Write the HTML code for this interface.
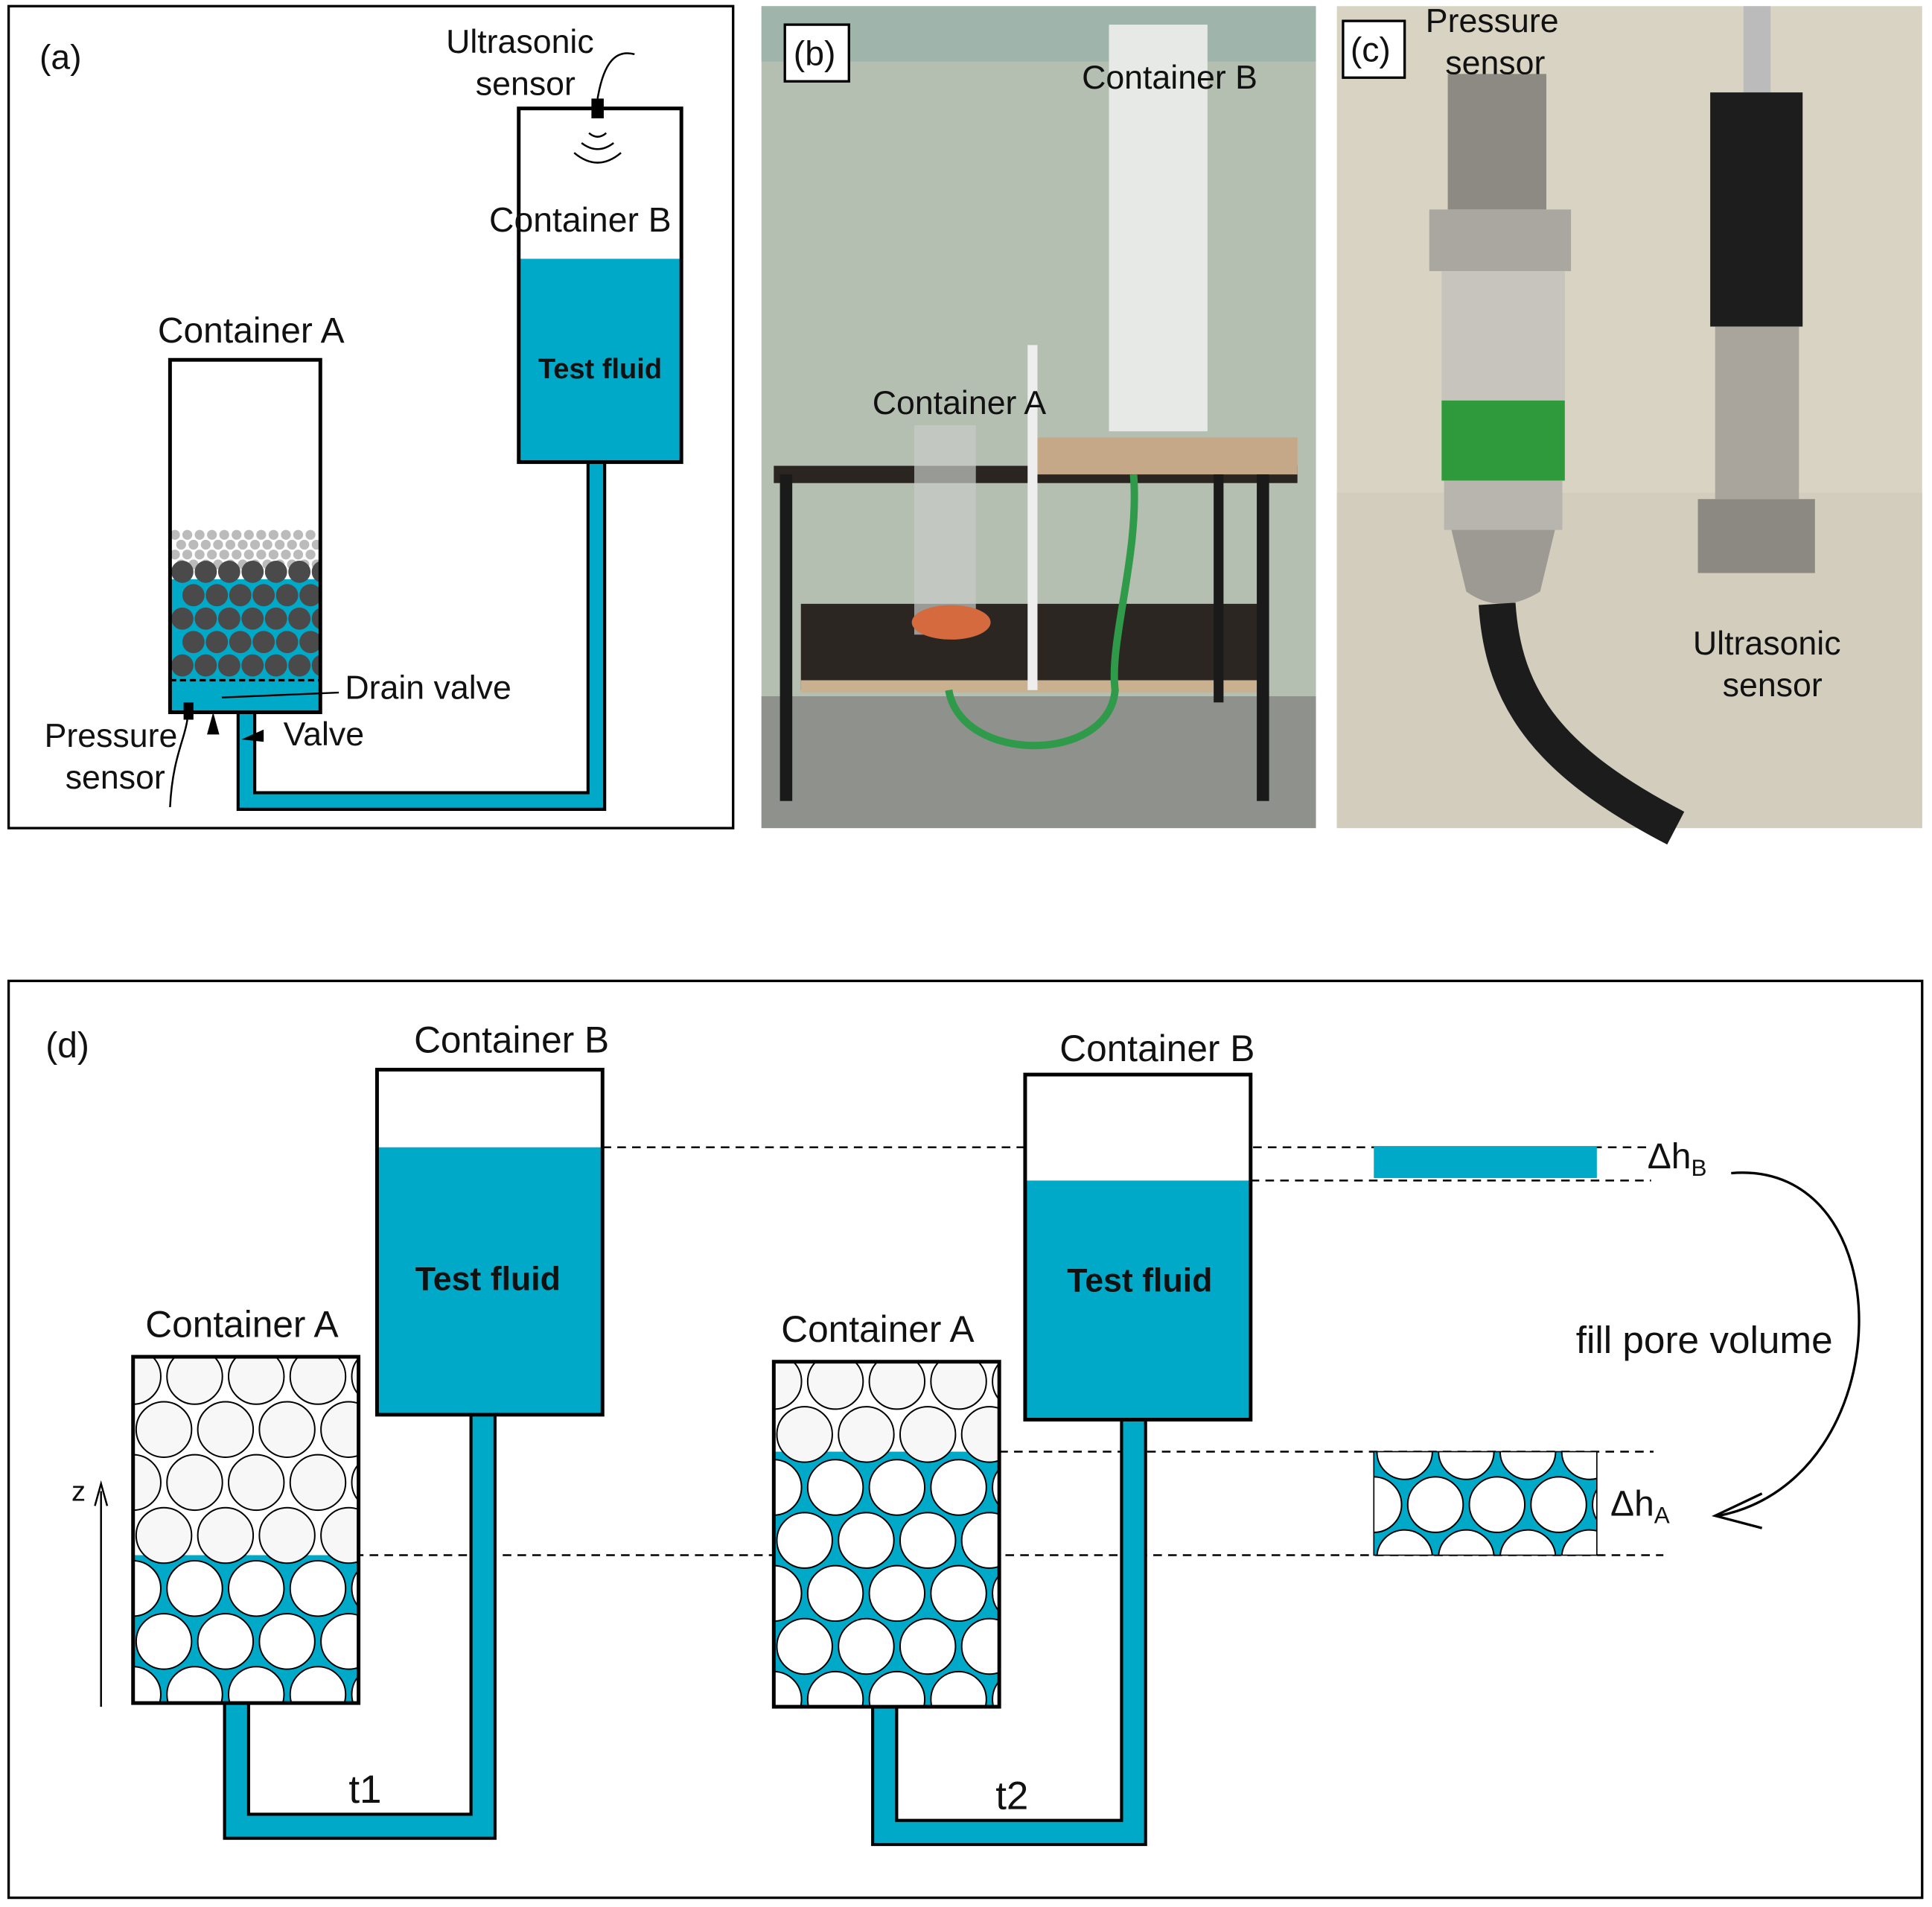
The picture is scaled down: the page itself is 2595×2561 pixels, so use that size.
<!DOCTYPE html>
<html><head><meta charset="utf-8"><style>
html,body{margin:0;padding:0;background:#fff}
svg{display:block}
text{font-family:"Liberation Sans",sans-serif;fill:#111}
</style></head><body>
<svg id="s" xmlns="http://www.w3.org/2000/svg" width="2595" height="2561" viewBox="0 0 1568 1547.5" preserveAspectRatio="none">
<defs>
<clipPath id="cA1"><rect x="108" y="1101" width="183" height="281"/></clipPath>
<clipPath id="cA2"><rect x="628" y="1105" width="183" height="280"/></clipPath>
<clipPath id="cBx"><rect x="1115" y="1178" width="181" height="84"/></clipPath>
<clipPath id="cAa"><rect x="138" y="420" width="122" height="158"/></clipPath>
</defs>
<rect width="1568" height="1547.5" fill="#fff"/>

<!-- Panel a -->
<rect x="7" y="5" width="588" height="667" fill="none" stroke="#000" stroke-width="2"/>
<text x="32" y="56" font-size="28">(a)</text>
<path d="M484,375 V650 H200 V578" fill="none" stroke="#000" stroke-width="16"/>
<path d="M484,375 V650 H200 V578" fill="none" stroke="#00a9c8" stroke-width="11"/>
<rect x="138" y="292" width="122" height="286" fill="#fff"/>
<rect x="138" y="470" width="122" height="108" fill="#00a9c8"/>
<g id="pa" clip-path="url(#cAa)"></g>
<line x1="138" y1="552" x2="260" y2="552" stroke="#000" stroke-width="2" stroke-dasharray="5,3"/>
<rect x="138" y="292" width="122" height="286" fill="none" stroke="#000" stroke-width="3"/>
<text x="128" y="278" font-size="29">Container A</text>
<rect x="149" y="570" width="8" height="14" fill="#000"/>
<path d="M168,596 L173,578 L178,596 Z" fill="#000"/>
<path d="M196,600 L214,592 L214,602 Z" fill="#000"/>
<line x1="180" y1="566" x2="275" y2="562" stroke="#000" stroke-width="1.5"/>
<path d="M152,584 C150,600 140,615 138,655" fill="none" stroke="#000" stroke-width="1.5"/>
<text x="280" y="567" font-size="27">Drain valve</text>
<text x="230" y="605" font-size="27">Valve</text>
<text x="36" y="606" font-size="27">Pressure</text>
<text x="53" y="640" font-size="27">sensor</text>
<rect x="421" y="210" width="132" height="165" fill="#00a9c8"/>
<rect x="421" y="88" width="132" height="287" fill="none" stroke="#000" stroke-width="3"/>
<text x="487" y="307" font-size="23" font-weight="bold" text-anchor="middle">Test fluid</text>
<text x="397" y="188" font-size="28">Container B</text>
<rect x="480" y="80" width="10" height="16" fill="#000"/>
<path d="M485,80 C490,50 500,40 515,44" fill="none" stroke="#000" stroke-width="1.5"/>
<path d="M478,108 Q485,114 492,108 M472,116 Q485,126 498,116 M466,124 Q485,140 504,124" fill="none" stroke="#000" stroke-width="1.5"/>
<text x="362" y="43" font-size="27">Ultrasonic</text>
<text x="386" y="77" font-size="27">sensor</text>

<!-- Panel b photo -->
<rect x="618" y="5" width="450" height="667" fill="#b4beb1"/>
<rect x="618" y="5" width="450" height="45" fill="#9fb5ab"/>
<rect x="618" y="565" width="450" height="107" fill="#8f918d"/>
<rect x="900" y="20" width="80" height="330" fill="#e6e9e6"/>
<rect x="628" y="378" width="425" height="14" fill="#2a2520"/>
<rect x="840" y="355" width="213" height="30" fill="#c4a888"/>
<rect x="650" y="490" width="372" height="70" fill="#2c2622"/>
<rect x="650" y="552" width="372" height="10" fill="#c9b08e"/>
<rect x="633" y="385" width="10" height="265" fill="#1a1a1a"/>
<rect x="1020" y="385" width="10" height="265" fill="#1a1a1a"/>
<rect x="985" y="385" width="8" height="185" fill="#1a1a1a"/>
<rect x="742" y="345" width="50" height="170" fill="#c8ccc8" opacity=".7"/>
<ellipse cx="772" cy="505" rx="32" ry="14" fill="#d56a3e"/>
<rect x="834" y="280" width="8" height="280" fill="#eee"/>
<path d="M920,385 C925,450 900,520 905,560 C900,620 780,620 770,560" fill="none" stroke="#2f9a4a" stroke-width="6"/>
<rect x="637" y="20" width="52" height="46" fill="#fff" stroke="#000" stroke-width="2"/>
<text x="644" y="53" font-size="28">(b)</text>
<text x="878" y="72" font-size="27">Container B</text>
<text x="708" y="336" font-size="27">Container A</text>

<!-- Panel c photo -->
<rect x="1085" y="5" width="475" height="667" fill="#d8d3c3"/>
<rect x="1085" y="400" width="475" height="272" fill="#d2cdbd"/>
<rect x="1175" y="60" width="80" height="110" fill="#8d8a84"/>
<rect x="1160" y="170" width="115" height="50" fill="#aaa7a0"/>
<rect x="1170" y="220" width="100" height="105" fill="#c7c4be"/>
<rect x="1170" y="325" width="100" height="65" fill="#2f9a3c"/>
<rect x="1172" y="390" width="96" height="40" fill="#b8b5ae"/>
<path d="M1178,430 L1262,430 L1250,480 Q1218,500 1190,480 Z" fill="#9d9a94"/>
<path d="M1215,490 C1220,570 1260,620 1360,672" fill="none" stroke="#1c1c1c" stroke-width="30"/>
<rect x="1415" y="5" width="22" height="70" fill="#bbb"/>
<rect x="1388" y="75" width="75" height="190" fill="#1d1d1d"/>
<rect x="1392" y="265" width="68" height="140" fill="#a9a59d"/>
<rect x="1378" y="405" width="95" height="60" fill="#8c8982"/>
<rect x="1090" y="17" width="50" height="46" fill="#fff" stroke="#000" stroke-width="2"/>
<text x="1096" y="50" font-size="28">(c)</text>
<text x="1157" y="26" font-size="27">Pressure</text>
<text x="1173" y="60" font-size="27">sensor</text>
<text x="1374" y="531" font-size="27">Ultrasonic</text>
<text x="1398" y="565" font-size="27">sensor</text>

<!-- Panel d -->
<rect x="7" y="796" width="1553" height="744" fill="none" stroke="#000" stroke-width="2"/>
<text x="37" y="858" font-size="29">(d)</text>

<g fill="none" stroke-width="1.5" stroke="#000" stroke-dasharray="7,5">
<line x1="489" y1="931" x2="1340" y2="931"/>
<line x1="1015" y1="958" x2="1340" y2="958"/>
<line x1="811" y1="1178" x2="1342" y2="1178"/>
<line x1="108" y1="1262" x2="1350" y2="1262"/>
</g>

<path d="M392,1148 V1482 H192 V1382" fill="none" stroke="#000" stroke-width="22"/>
<path d="M392,1148 V1482 H192 V1382" fill="none" stroke="#00a9c8" stroke-width="17"/>
<path d="M920,1152 V1487 H718 V1385" fill="none" stroke="#000" stroke-width="22"/>
<path d="M920,1152 V1487 H718 V1385" fill="none" stroke="#00a9c8" stroke-width="17"/>

<rect x="306" y="868" width="183" height="280" fill="#fff"/>
<rect x="306" y="931" width="183" height="217" fill="#00a9c8"/>
<rect x="306" y="868" width="183" height="280" fill="none" stroke="#000" stroke-width="3"/>
<text x="396" y="1047" font-size="27" font-weight="bold" text-anchor="middle">Test fluid</text>
<text x="336" y="854" font-size="30">Container B</text>
<rect x="832" y="872" width="183" height="280" fill="#fff"/>
<rect x="832" y="958" width="183" height="194" fill="#00a9c8"/>
<rect x="832" y="872" width="183" height="280" fill="none" stroke="#000" stroke-width="3"/>
<text x="925" y="1048" font-size="27" font-weight="bold" text-anchor="middle">Test fluid</text>
<text x="860" y="861" font-size="30">Container B</text>

<rect x="108" y="1101" width="183" height="281" fill="#fff"/>
<rect x="108" y="1262" width="183" height="120" fill="#00a9c8"/>
<g id="c1" clip-path="url(#cA1)"></g>
<rect x="108" y="1101" width="183" height="281" fill="none" stroke="#000" stroke-width="3"/>
<text x="118" y="1085" font-size="30">Container A</text>
<rect x="628" y="1105" width="183" height="280" fill="#fff"/>
<rect x="628" y="1178" width="183" height="207" fill="#00a9c8"/>
<g id="c2" clip-path="url(#cA2)"></g>
<rect x="628" y="1105" width="183" height="280" fill="none" stroke="#000" stroke-width="3"/>
<text x="634" y="1089" font-size="30">Container A</text>

<text x="283" y="1463" font-size="32">t1</text>
<text x="808" y="1468" font-size="32">t2</text>
<line x1="82" y1="1385" x2="82" y2="1210" stroke="#000" stroke-width="1.5"/>
<path d="M77,1222 L82,1204 L87,1222" fill="none" stroke="#000" stroke-width="1.5"/>
<text x="58" y="1218" font-size="23">z</text>

<rect x="1115" y="930" width="181" height="26" fill="#00a9c8"/>
<rect x="1115" y="1178" width="181" height="84" fill="#00a9c8"/>
<g id="c3" clip-path="url(#cBx)"></g>
<rect x="1115" y="1178" width="181" height="84" fill="none" stroke="#000" stroke-width="1"/>
<text x="1337" y="948" font-size="29">Δh<tspan font-size="19" dy="6">B</tspan></text>
<text x="1307" y="1230" font-size="29">Δh<tspan font-size="19" dy="6">A</tspan></text>
<path d="M1405,952 C1545,940 1545,1200 1395,1230" fill="none" stroke="#000" stroke-width="2"/>
<path d="M1430,1212 L1392,1230 L1430,1240" fill="none" stroke="#000" stroke-width="2"/>
<text x="1279" y="1098" font-size="31">fill pore volume</text>
</svg>
<script>
var NS="http://www.w3.org/2000/svg";
function circ(g,x,y,r,f,sw){var c=document.createElementNS(NS,"circle");c.setAttribute("cx",x);c.setAttribute("cy",y);c.setAttribute("r",r);c.setAttribute("fill",f);c.setAttribute("stroke","#000");c.setAttribute("stroke-width",sw);g.appendChild(c);}
function pack(id,x0,y0,w,h,r,dx,dy,fillY,fTop,fBot,phase){
 var g=document.getElementById(id);
 for(var j=0;y0+j*dy<y0+h+r;j++){var y=y0+j*dy;var off=((j+phase)%2)*dx/2;
  for(var x=x0+off-dx;x<x0+w+r;x+=dx){circ(g,x,y,r,y<fillY?fTop:fBot,1.2);}}
}
pack("c1",108,1117,183,281,22.5,50,43,1262,"#f7f7f7","#fff",0);
pack("c2",628,1121,183,280,22.5,50,43,1178,"#f7f7f7","#fff",0);
pack("c3",1115,1178,181,84,22.5,50,43,9999,"#fff","#fff",1);
var g=document.getElementById("pa");
for(var j=0;j<4;j++)for(var i=0;i<12;i++){circ(g,142+i*10+(j%2)*5,434+j*8,4,"#bbb",0);}
for(var j=0;j<5;j++)for(var i=0;i<7;i++){circ(g,148+i*19+(j%2)*9,464+j*19,9,"#4a4a4a",0);}
</script>
</body></html>
